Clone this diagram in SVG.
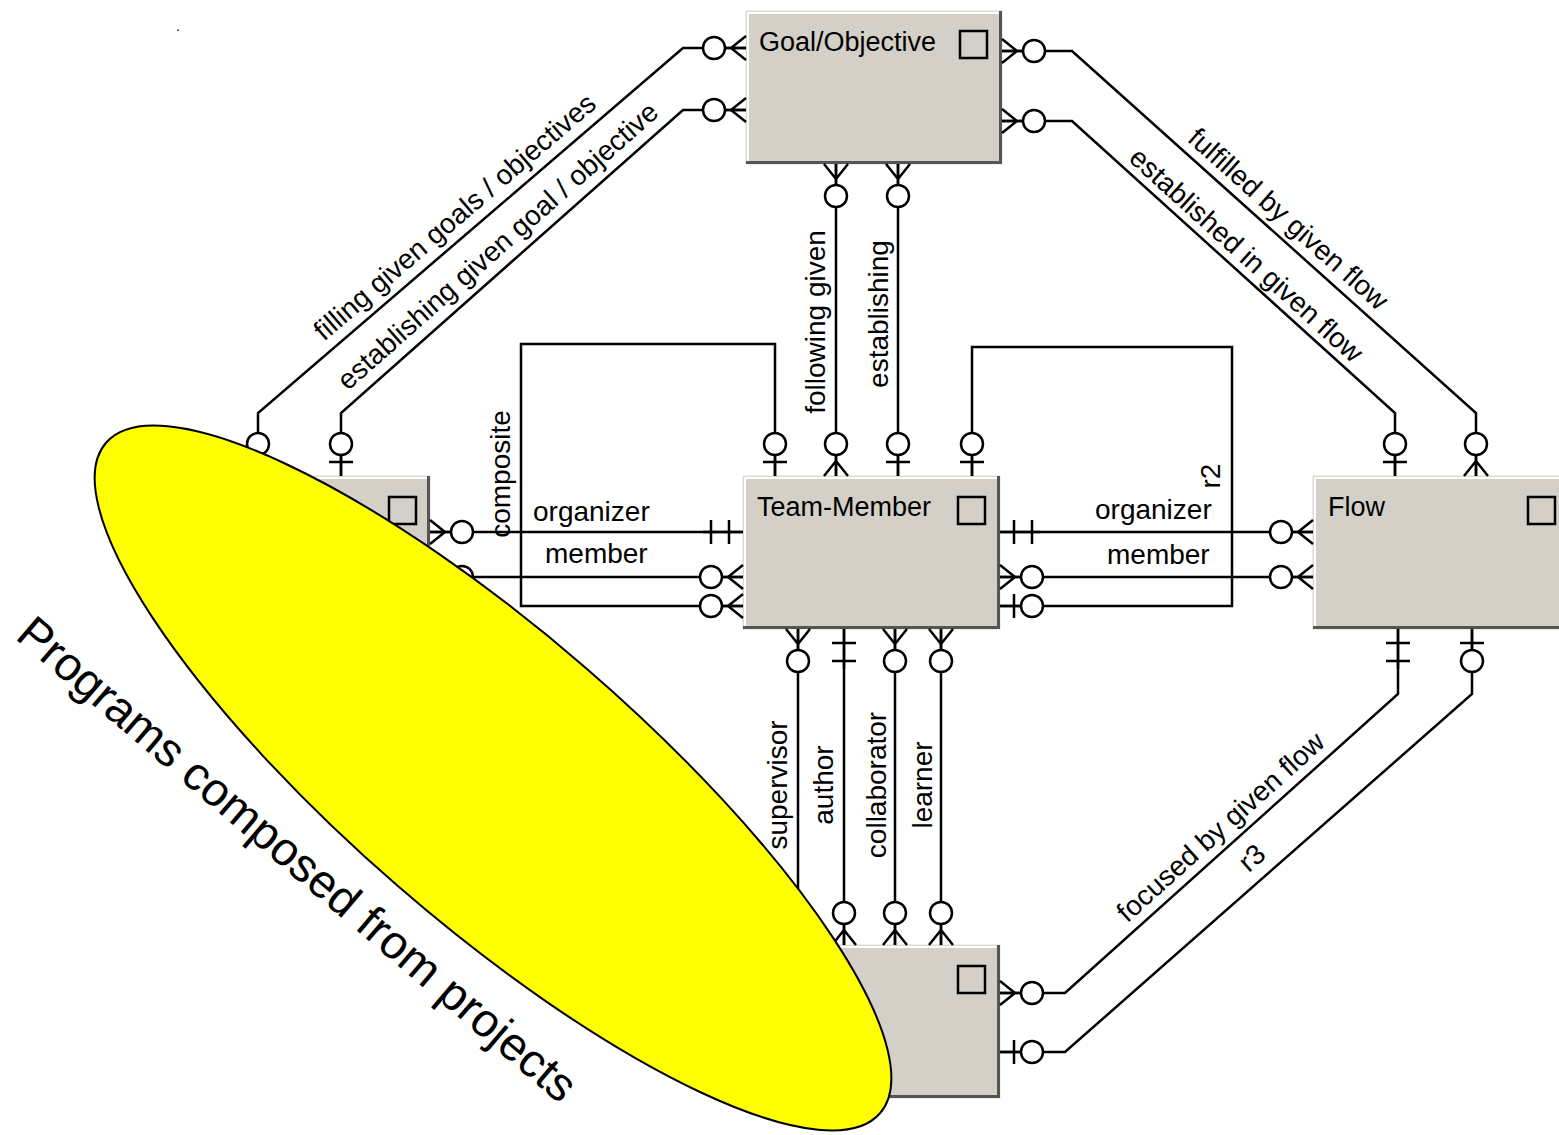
<svg xmlns="http://www.w3.org/2000/svg" width="1559" height="1135" viewBox="0 0 1559 1135">
  <style>
    .bf { fill: #d4d0c8; stroke: #e2e0db; stroke-width: 1; }
    .hi { fill: none; stroke: #ffffff; stroke-width: 2; }
    .sh { fill: none; stroke: #555555; stroke-width: 3; }
    .sq { fill: none; stroke: #000; stroke-width: 2.5; }
    .ln { fill: none; stroke: #000; stroke-width: 2.5; }
    .ci { fill: #fff; stroke: #000; stroke-width: 2.5; }
    .t  { font-family: "Liberation Sans", Arial, sans-serif; font-size: 28px; fill: #000; }
    .tt { font-family: "Liberation Sans", Arial, sans-serif; font-size: 27px; fill: #000; }
    .m  { text-anchor: middle; }
    .big { font-family: "Liberation Sans", Arial, sans-serif; font-size: 47px; fill: #000; }
  </style>
  <defs>
    <!-- end symbols: box edge at x=0, connector leaves toward +x -->
    <g id="zm"><path class="ln" d="M0,0H22M0,-12L15,0L0,12"/><circle class="ci" cx="32" r="11"/></g>
    <g id="zo"><path class="ln" d="M0,0H22M14,-12V12"/><circle class="ci" cx="32" r="11"/></g>
    <g id="oo"><path class="ln" d="M0,0H40M14,-12V12M32,-12V12"/></g>
  </defs>
  <rect width="1559" height="1135" fill="#fff"/>
  <text class="t" x="176" y="31" style="font-size:14px">.</text>

  <!-- entities -->
  <g id="goal-objective">
    <rect class="bf" x="746" y="11" width="256" height="153"/>
    <path class="hi" d="M748,161V13H999"/>
    <path class="sh" d="M746,162.5H1000.5V11"/>
    <text class="tt" x="759" y="51">Goal/Objective</text>
    <rect class="sq" x="960" y="31" width="27" height="27"/>
  </g>
  <g id="program">
    <rect class="bf" x="173" y="476" width="257" height="153"/>
    <path class="hi" d="M175,626V478H427"/>
    <path class="sh" d="M173,627.5H428.5V476"/>
    <rect class="sq" x="389" y="497" width="27" height="27"/>
  </g>
  <g id="team-member">
    <rect class="bf" x="743" y="476" width="257" height="153"/>
    <path class="hi" d="M745,626V478H997"/>
    <path class="sh" d="M743,627.5H998.5V476"/>
    <text class="tt" x="757" y="516">Team-Member</text>
    <rect class="sq" x="958" y="497" width="27" height="27"/>
  </g>
  <g id="flow">
    <rect class="bf" x="1313" y="476" width="257" height="153"/>
    <path class="hi" d="M1315,626V478H1567"/>
    <path class="sh" d="M1313,627.5H1568.5V476"/>
    <text class="tt" x="1328" y="516">Flow</text>
    <rect class="sq" x="1528" y="497" width="27" height="27"/>
  </g>
  <g id="project">
    <rect class="bf" x="743" y="945" width="257" height="153"/>
    <path class="hi" d="M745,1095V947H997"/>
    <path class="sh" d="M743,1096.5H998.5V945"/>
    <rect class="sq" x="958" y="966" width="27" height="27"/>
  </g>

  <!-- relationships -->
  <g id="connectors">
    <path class="ln" d="M746,48H683L258,413V476"/>
    <path class="ln" d="M746,110H683L341,413V476"/>
    <path class="ln" d="M1002,51H1072L1476,413V476"/>
    <path class="ln" d="M1002,121H1072L1395,413V476"/>
    <path class="ln" d="M836,164V476"/>
    <path class="ln" d="M898,164V476"/>
    <path class="ln" d="M775,476V344H521V606H743"/>
    <path class="ln" d="M743,532H430"/>
    <path class="ln" d="M743,577H430"/>
    <path class="ln" d="M972,476V347H1232V606H1000"/>
    <path class="ln" d="M1000,532H1313"/>
    <path class="ln" d="M1000,577H1313"/>
    <path class="ln" d="M798,629V945"/>
    <path class="ln" d="M844,629V945"/>
    <path class="ln" d="M895,629V945"/>
    <path class="ln" d="M941,629V945"/>
    <path class="ln" d="M1000,993H1065L1398,694V629"/>
    <path class="ln" d="M1000,1052H1065L1472,694V629"/>

    <use href="#zm" transform="translate(746,48) rotate(180)"/>
    <use href="#zm" transform="translate(258,476) rotate(-90)"/>
    <use href="#zm" transform="translate(746,110) rotate(180)"/>
    <use href="#zo" transform="translate(341,476) rotate(-90)"/>
    <use href="#zm" transform="translate(1002,51)"/>
    <use href="#zm" transform="translate(1476,476) rotate(-90)"/>
    <use href="#zm" transform="translate(1002,121)"/>
    <use href="#zo" transform="translate(1395,476) rotate(-90)"/>
    <use href="#zm" transform="translate(836,164) rotate(90)"/>
    <use href="#zm" transform="translate(836,476) rotate(-90)"/>
    <use href="#zm" transform="translate(898,164) rotate(90)"/>
    <use href="#zo" transform="translate(898,476) rotate(-90)"/>
    <use href="#zo" transform="translate(775,476) rotate(-90)"/>
    <use href="#zm" transform="translate(743,606) rotate(180)"/>
    <use href="#oo" transform="translate(743,532) rotate(180)"/>
    <use href="#zm" transform="translate(430,532)"/>
    <use href="#zm" transform="translate(743,577) rotate(180)"/>
    <use href="#zm" transform="translate(430,577)"/>
    <use href="#zo" transform="translate(972,476) rotate(-90)"/>
    <use href="#zo" transform="translate(1000,606)"/>
    <use href="#oo" transform="translate(1000,532)"/>
    <use href="#zm" transform="translate(1313,532) rotate(180)"/>
    <use href="#zm" transform="translate(1000,577)"/>
    <use href="#zm" transform="translate(1313,577) rotate(180)"/>
    <use href="#zm" transform="translate(798,629) rotate(90)"/>
    <use href="#zm" transform="translate(798,945) rotate(-90)"/>
    <use href="#oo" transform="translate(844,629) rotate(90)"/>
    <use href="#zm" transform="translate(844,945) rotate(-90)"/>
    <use href="#zm" transform="translate(895,629) rotate(90)"/>
    <use href="#zm" transform="translate(895,945) rotate(-90)"/>
    <use href="#zm" transform="translate(941,629) rotate(90)"/>
    <use href="#zm" transform="translate(941,945) rotate(-90)"/>
    <use href="#zm" transform="translate(1000,993)"/>
    <use href="#oo" transform="translate(1398,629) rotate(90)"/>
    <use href="#zo" transform="translate(1000,1052)"/>
    <use href="#zo" transform="translate(1472,629) rotate(90)"/>
  </g>

  <!-- relationship labels -->
  <g id="labels">
    <text class="t m" transform="translate(461,224) rotate(-40.7)">filling given goals / objectives</text>
    <text class="t m" transform="translate(504,253) rotate(-41.5)">establishing given goal / objective</text>
    <text class="t m" transform="translate(1282,226) rotate(41.7)">fulfilled by given flow</text>
    <text class="t m" transform="translate(1240,262) rotate(42.2)">established in given flow</text>
    <text class="t m" transform="translate(1227,834) rotate(-41.9)">focused by given flow</text>
    <text class="t m" transform="translate(1258,865) rotate(-41.3)">r3</text>
    <text class="t m" transform="translate(825,322) rotate(-90)">following given</text>
    <text class="t m" transform="translate(888,314) rotate(-90)">establishing</text>
    <text class="t m" transform="translate(510,474) rotate(-90)">composite</text>
    <text class="t m" transform="translate(1220,476) rotate(-90)">r2</text>
    <text class="t m" transform="translate(787,785) rotate(-90)">supervisor</text>
    <text class="t m" transform="translate(833,785) rotate(-90)">author</text>
    <text class="t m" transform="translate(886,785) rotate(-90)">collaborator</text>
    <text class="t m" transform="translate(932,785) rotate(-90)">learner</text>
    <text class="t" x="533" y="521">organizer</text>
    <text class="t" x="545" y="563">member</text>
    <text class="t" x="1095" y="519">organizer</text>
    <text class="t" x="1107" y="564">member</text>
  </g>

  <!-- highlighted note over the program entity -->
  <g id="note">
    <ellipse cx="493" cy="778" rx="512" ry="144" transform="rotate(40.9 493 778)" fill="#ffff00" stroke="#000" stroke-width="2"/>
    <text class="big" transform="translate(14,638) rotate(40.5)">Programs composed from projects</text>
  </g>
</svg>
